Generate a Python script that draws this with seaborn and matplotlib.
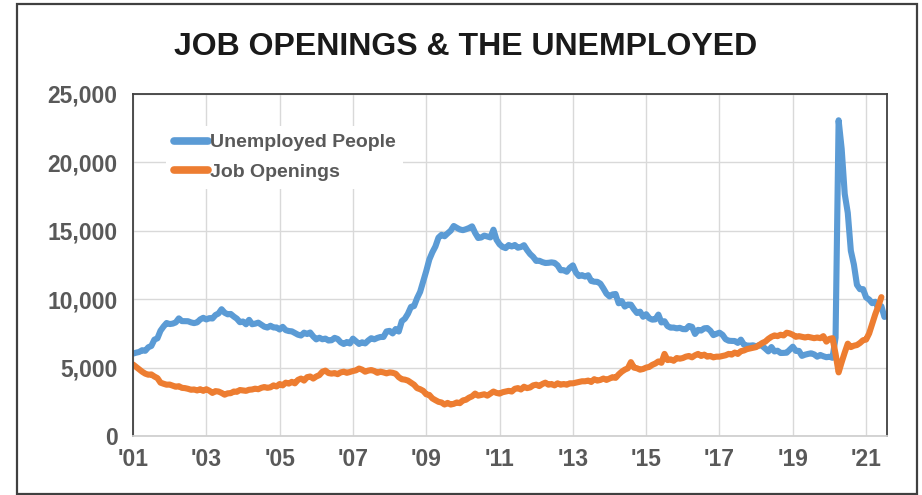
import numpy as np
import pandas as pd
import matplotlib
matplotlib.use("Agg")
import matplotlib.pyplot as plt
import seaborn as sns
from matplotlib.patches import Rectangle

# ---- data (thousands, monthly) ----
start_year = 2001
unemployed = [
    6023, 6089, 6141, 6271, 6226, 6484, 6583, 7042, 7142, 7694, 8003, 8258,
    8182, 8215, 8304, 8599, 8399, 8393, 8390, 8304, 8251, 8307, 8520, 8640,
    8520, 8618, 8588, 8842, 8957, 9266, 9011, 8896, 8921, 8732, 8576, 8317,
    8370, 8167, 8491, 8170, 8212, 8286, 8136, 7990, 7927, 8061, 7932, 7934,
    7784, 7980, 7737, 7672, 7651, 7524, 7406, 7345, 7553, 7453, 7566, 7279,
    7064, 7184, 7072, 7120, 6980, 7001, 7175, 7091, 6847, 6727, 6872, 6762,
    7116, 6927, 6731, 6850, 6766, 6979, 7149, 7067, 7170, 7237, 7240, 7645,
    7685, 7497, 7822, 7637, 8395, 8575, 8937, 9438, 9494, 10074, 10538, 11286,
    12058, 12898, 13426, 13853, 14499, 14707, 14601, 14814, 15009, 15352, 15219, 15098,
    15046, 15113, 15202, 15325, 14849, 14474, 14512, 14648, 14579, 14516, 15081, 14348,
    14013, 13820, 13737, 13957, 13855, 13962, 13763, 13818, 13948, 13594, 13302, 13093,
    12797, 12813, 12713, 12646, 12660, 12692, 12656, 12471, 12115, 12124, 12005, 12298,
    12471, 11950, 11689, 11760, 11654, 11751, 11335, 11279, 11270, 11136, 10787, 10404,
    10202, 10349, 10380, 9702, 9859, 9460, 9608, 9599, 9262, 8990, 9090, 8717,
    8903, 8610, 8504, 8526, 8875, 8299, 8388, 8033, 7919, 7927, 7867, 7907,
    7815, 7806, 8043, 7979, 7458, 7758, 7708, 7872, 7891, 7698, 7375, 7469,
    7554, 7395, 7075, 6964, 6949, 6943, 6806, 7044, 6675, 6613, 6605, 6629,
    6553, 6639, 6581, 6389, 6185, 6502, 6182, 6234, 6069, 6075, 6090, 6311,
    6527, 6221, 6223, 5857, 5943, 6000, 6046, 5964, 5799, 5924, 5830, 5758,
    5796, 5717, 7185, 23078, 20985, 17697, 16308, 13542, 12535, 11049, 10728, 10736,
    10130, 9972, 9710, 9812, 9316, 9484, 8703,
]
job_openings = [
    5230, 5050, 4880, 4700, 4560, 4480, 4500, 4350, 4230, 3900, 3820, 3750,
    3760, 3680, 3600, 3640, 3520, 3500, 3450, 3380, 3400, 3330, 3420, 3300,
    3420, 3310, 3150, 3280, 3250, 3150, 3020, 3120, 3130, 3250, 3230, 3360,
    3330, 3300, 3380, 3400, 3460, 3420, 3520, 3580, 3520, 3560, 3700, 3620,
    3800, 3700, 3900, 3830, 3960, 3850, 4100, 4200, 4050, 4300, 4350, 4200,
    4350, 4450, 4700, 4780, 4600, 4560, 4600, 4520, 4650, 4700, 4620, 4680,
    4750, 4800, 4930, 4850, 4700, 4780, 4820, 4750, 4620, 4700, 4650, 4580,
    4650, 4620, 4550, 4300, 4150, 4120, 4050, 3900, 3750, 3500, 3420, 3300,
    3050, 3000, 2750, 2620, 2500, 2450, 2300, 2420, 2300, 2350, 2450, 2400,
    2600, 2650, 2800, 2900, 3100, 2950, 3000, 3050, 2950, 3100, 3250, 3150,
    3100, 3200, 3250, 3300, 3250, 3450, 3500, 3400, 3600, 3500, 3550, 3700,
    3750, 3650, 3800, 3900, 3750, 3800, 3700, 3850, 3750, 3800, 3750, 3850,
    3850, 3900, 3950, 4000, 4000, 4050, 3950, 4150, 4050, 4100, 4200, 4100,
    4200, 4300, 4250, 4500, 4700, 4850, 4950, 5400, 5000, 4950, 4850, 4900,
    5000, 5050, 5200, 5300, 5450, 5350, 6000, 5550, 5600, 5500, 5700, 5650,
    5700, 5800, 5850, 5750, 5900, 6000, 5850, 5950, 5800, 5850, 5750, 5800,
    5800, 5850, 5900, 6000, 5950, 6100, 6000, 6200, 6250, 6350, 6400, 6450,
    6500, 6650, 6800, 6900, 7100, 7250, 7350, 7300, 7400, 7350, 7550, 7500,
    7400, 7250, 7300, 7250, 7200, 7250, 7200, 7150, 7200, 7150, 7300, 6900,
    7100, 7150, 6000, 4650, 5400, 6100, 6750, 6500, 6600, 6650, 6800, 7000,
    7050, 7500, 8200, 8900, 9500, 10150,
]
series_names = ["Unemployed People", "Job Openings"]
tick_years = list(range(2001, 2022, 2))
tick_labels = ["'%02d" % (y % 100) for y in tick_years]
y_ticks = [0, 5000, 10000, 15000, 20000, 25000]

rows = []
for name, vals in zip(series_names, [unemployed, job_openings]):
    for i, v in enumerate(vals):
        rows.append({"date": start_year + i / 12.0, "value": v, "series": name})
df = pd.DataFrame(rows)

# ---- figure ----
sns.set_theme(style="white")
plt.rcParams["font.family"] = ["Liberation Sans", "DejaVu Sans"]

W, H = 922, 495
fig = plt.figure(figsize=(W / 100, H / 100), dpi=100)
ax = fig.add_axes([133 / W, 1 - 436 / H, (887 - 133) / W, (436 - 94) / H])

palette = {"Unemployed People": "#5B9BD5", "Job Openings": "#ED7D31"}
sns.lineplot(data=df, x="date", y="value", hue="series", palette=palette,
             linewidth=4.4, ax=ax, legend=True, sort=False)
for ln in ax.lines:
    ln.set_solid_capstyle("round")
    ln.set_solid_joinstyle("round")

ax.set_xlim(2001, 2021.57)
ax.set_ylim(0, 25000)
ax.set_xticks(tick_years)
ax.set_xticklabels(tick_labels)
ax.set_yticks(y_ticks)
ax.set_yticklabels(["{:,}".format(v) for v in y_ticks])
ax.set_xlabel("")
ax.set_ylabel("")

ax.grid(True, color="#d9d9d9", linewidth=1.0)
ax.set_axisbelow(True)

for s in ["left", "top", "right"]:
    ax.spines[s].set_color("#404040")
    ax.spines[s].set_linewidth(1.3)
ax.spines["bottom"].set_color("#d0d0d0")
ax.spines["bottom"].set_linewidth(1.3)

ax.tick_params(axis="x", length=4, width=1, color="#d0d0d0", pad=5,
               labelsize=16.5, labelcolor="#595959")
ax.tick_params(axis="y", length=0, pad=11, labelsize=16.5, labelcolor="#595959")
for lab in ax.get_xticklabels() + ax.get_yticklabels():
    lab.set_fontweight("bold")

leg = ax.legend(loc="upper left", bbox_to_anchor=(0.031, 0.935), frameon=True,
                framealpha=1, facecolor="white", edgecolor="none",
                handlelength=1.75, handletextpad=0.1, labelspacing=0.62,
                borderpad=0.4, prop={"weight": "bold", "size": 14})
for t in leg.get_texts():
    t.set_color("#595959")
for h in leg.get_lines():
    h.set_linewidth(5.5)
    h.set_solid_capstyle("round")

fig.text(0.505, 1 - 55 / H, "JOB OPENINGS & THE UNEMPLOYED", ha="center",
         va="baseline", fontsize=23, fontweight="bold", color="#1a1a1a")

fig.patches.append(Rectangle((17 / W, 1.5 / H), (917 - 17) / W, (491 - 1.5) / H,
                             transform=fig.transFigure, fill=False,
                             edgecolor="#404040", linewidth=1.6))

fig.savefig("out.png", dpi=100)
